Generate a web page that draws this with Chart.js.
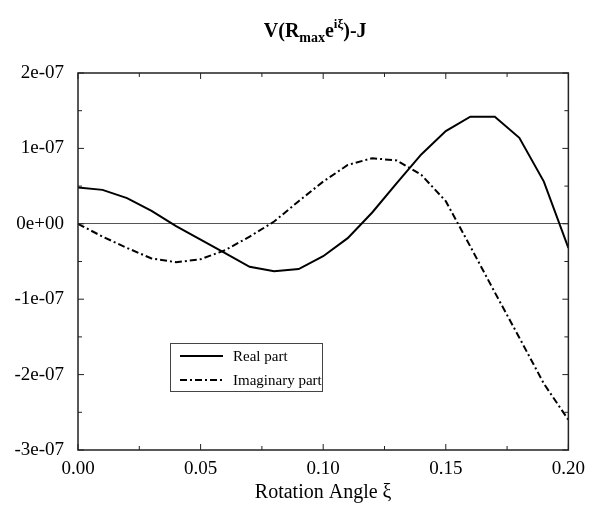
<!DOCTYPE html>
<html>
<head>
<meta charset="utf-8">
<script src="https://cdn.jsdelivr.net/npm/chart.js@4.4.1/dist/chart.umd.min.js"></script>
<style>
  html, body { margin: 0; padding: 0; background: #fff; }
  #wrap { width: 593px; height: 508px; }
</style>
</head>
<body>
<div id="wrap"><canvas id="chart_rotation"></canvas></div>
<script>
// rotation angle xi, step 0.01
var angles = [0.00, 0.01, 0.02, 0.03, 0.04, 0.05, 0.06, 0.07, 0.08, 0.09, 0.10,
              0.11, 0.12, 0.13, 0.14, 0.15, 0.16, 0.17, 0.18, 0.19, 0.20];
var realPart = [0.48e-7, 0.45e-7, 0.34e-7, 0.17e-7, -0.03e-7, -0.21e-7, -0.39e-7, -0.57e-7, -0.63e-7, -0.60e-7, -0.43e-7,
                -0.19e-7, 0.15e-7, 0.54e-7, 0.92e-7, 1.23e-7, 1.42e-7, 1.42e-7, 1.14e-7, 0.56e-7, -0.32e-7];
var imagPart = [0.00e-7, -0.17e-7, -0.32e-7, -0.46e-7, -0.51e-7, -0.47e-7, -0.35e-7, -0.17e-7, 0.03e-7, 0.30e-7, 0.56e-7,
                0.78e-7, 0.87e-7, 0.84e-7, 0.65e-7, 0.30e-7, -0.30e-7, -0.91e-7, -1.51e-7, -2.12e-7, -2.60e-7];
var seriesLabels = ["Real part", "Imaginary part"];
var xTitle = "Rotation Angle \u03be";

const serif = "'Liberation Serif', 'DejaVu Serif', serif";

function toPoints(ys) {
  return angles.map((a, i) => ({ x: a, y: ys[i] }));
}

function expLabel(value) {
  const n = Math.round(value / 1e-7);
  if (n === 0) return "0e+00";
  return n + "e-07";
}

// title with subscript / superscript, centred over the plot
const titlePlugin = {
  id: "titleParts",
  afterDraw(chart) {
    const ctx = chart.ctx;
    const area = chart.chartArea;
    const parts = [
      { t: "V(R", size: 20, dy: 0 },
      { t: "max", size: 14, dy: 5 },
      { t: "e", size: 20, dy: 0 },
      { t: "i\u03be", size: 13, dy: -9 },
      { t: ")-J", size: 20, dy: 0 },
    ];
    ctx.save();
    ctx.fillStyle = "#000";
    ctx.textBaseline = "alphabetic";
    let total = 0;
    parts.forEach((p) => {
      ctx.font = "bold " + p.size + "px " + serif;
      p.w = ctx.measureText(p.t).width;
      total += p.w;
    });
    let x = (area.left + area.right) / 2 - total / 2 - 8;
    parts.forEach((p) => {
      ctx.font = "bold " + p.size + "px " + serif;
      ctx.fillText(p.t, x, 37 + p.dy);
      x += p.w;
    });
    ctx.restore();
  },
};

// box frame with inward ticks on all four sides
const framePlugin = {
  id: "frame",
  afterDatasetsDraw(chart) {
    const ctx = chart.ctx;
    const a = chart.chartArea;
    const xs = chart.scales.x;
    const ys = chart.scales.y;
    ctx.save();
    ctx.strokeStyle = "#222";
    ctx.lineWidth = 1.5;
    ctx.strokeRect(a.left, a.top, a.right - a.left, a.bottom - a.top);
    ctx.lineWidth = 1;
    for (let i = 0; i <= 8; i++) {
      const px = xs.getPixelForValue(i * 0.025);
      const len = i % 2 === 0 ? 6 : 4;
      ctx.beginPath();
      ctx.moveTo(px, a.bottom); ctx.lineTo(px, a.bottom - len);
      ctx.moveTo(px, a.top); ctx.lineTo(px, a.top + len);
      ctx.stroke();
    }
    for (let j = -6; j <= 4; j++) {
      const py = ys.getPixelForValue(j * 0.5e-7);
      const len = j % 2 === 0 ? 6 : 4;
      ctx.beginPath();
      ctx.moveTo(a.left, py); ctx.lineTo(a.left + len, py);
      ctx.moveTo(a.right, py); ctx.lineTo(a.right - len, py);
      ctx.stroke();
    }
    ctx.restore();
  },
};

// boxed legend inside the plot
const legendPlugin = {
  id: "boxLegend",
  afterDatasetsDraw(chart) {
    const ctx = chart.ctx;
    const left = 170, top = 343, w = 152, h = 48;
    ctx.save();
    ctx.fillStyle = "#fff";
    ctx.fillRect(left, top, w, h);
    ctx.strokeStyle = "#444";
    ctx.lineWidth = 1;
    ctx.strokeRect(left + 0.5, top + 0.5, w, h);
    ctx.font = "15px " + serif;
    ctx.textBaseline = "middle";
    chart.data.datasets.forEach((ds, i) => {
      const y = top + 13 + i * 24;
      ctx.strokeStyle = ds.borderColor;
      ctx.lineWidth = ds.borderWidth;
      ctx.setLineDash(ds.borderDash || []);
      ctx.beginPath();
      ctx.moveTo(left + 10, y);
      ctx.lineTo(left + 53, y);
      ctx.stroke();
      ctx.setLineDash([]);
      ctx.fillStyle = "#000";
      ctx.fillText(ds.label, left + 63, y + 1);
    });
    ctx.restore();
  },
};

const config_rotation = {
  type: "line",
  data: {
    datasets: [
      {
        label: seriesLabels[0],
        data: toPoints(realPart),
        borderColor: "#000",
        borderWidth: 2,
        pointRadius: 0,
        tension: 0,
      },
      {
        label: seriesLabels[1],
        data: toPoints(imagPart),
        borderColor: "#000",
        borderWidth: 2,
        borderDash: [7, 3, 2, 3],
        pointRadius: 0,
        tension: 0,
      },
    ],
  },
  options: {
    responsive: false,
    animation: false,
    layout: { padding: { top: 73, right: 20, left: 0, bottom: 0 } },
    plugins: {
      legend: { display: false },
      title: { display: false },
      tooltip: { enabled: false },
    },
    scales: {
      x: {
        type: "linear",
        min: 0,
        max: 0.2,
        afterFit(scale) { scale.height = 58; },
        border: { display: false },
        grid: { display: false, drawTicks: false },
        ticks: {
          stepSize: 0.05,
          padding: 8,
          color: "#000",
          font: { family: serif, size: 19 },
          callback: (v) => v.toFixed(2),
        },
        title: {
          display: true,
          text: xTitle,
          color: "#000",
          font: { family: serif, size: 20 },
          padding: { top: 2, bottom: 3 },
        },
      },
      y: {
        min: -3e-7,
        max: 2e-7,
        afterFit(scale) { scale.width = 78; },
        border: { display: false },
        grid: {
          drawTicks: false,
          color: (c) => (c.tick && Math.abs(c.tick.value) < 1e-12 ? "#555" : "rgba(0,0,0,0)"),
          lineWidth: 1,
        },
        ticks: {
          stepSize: 1e-7,
          padding: 14,
          color: "#000",
          font: { family: serif, size: 19 },
          callback: (v) => expLabel(v),
        },
      },
    },
  },
  plugins: [titlePlugin, framePlugin, legendPlugin],
};

const canvas = document.getElementById("chart_rotation");
canvas.width = 593;
canvas.height = 508;
const rotationChart = new Chart(canvas, config_rotation);
</script>
</body>
</html>
